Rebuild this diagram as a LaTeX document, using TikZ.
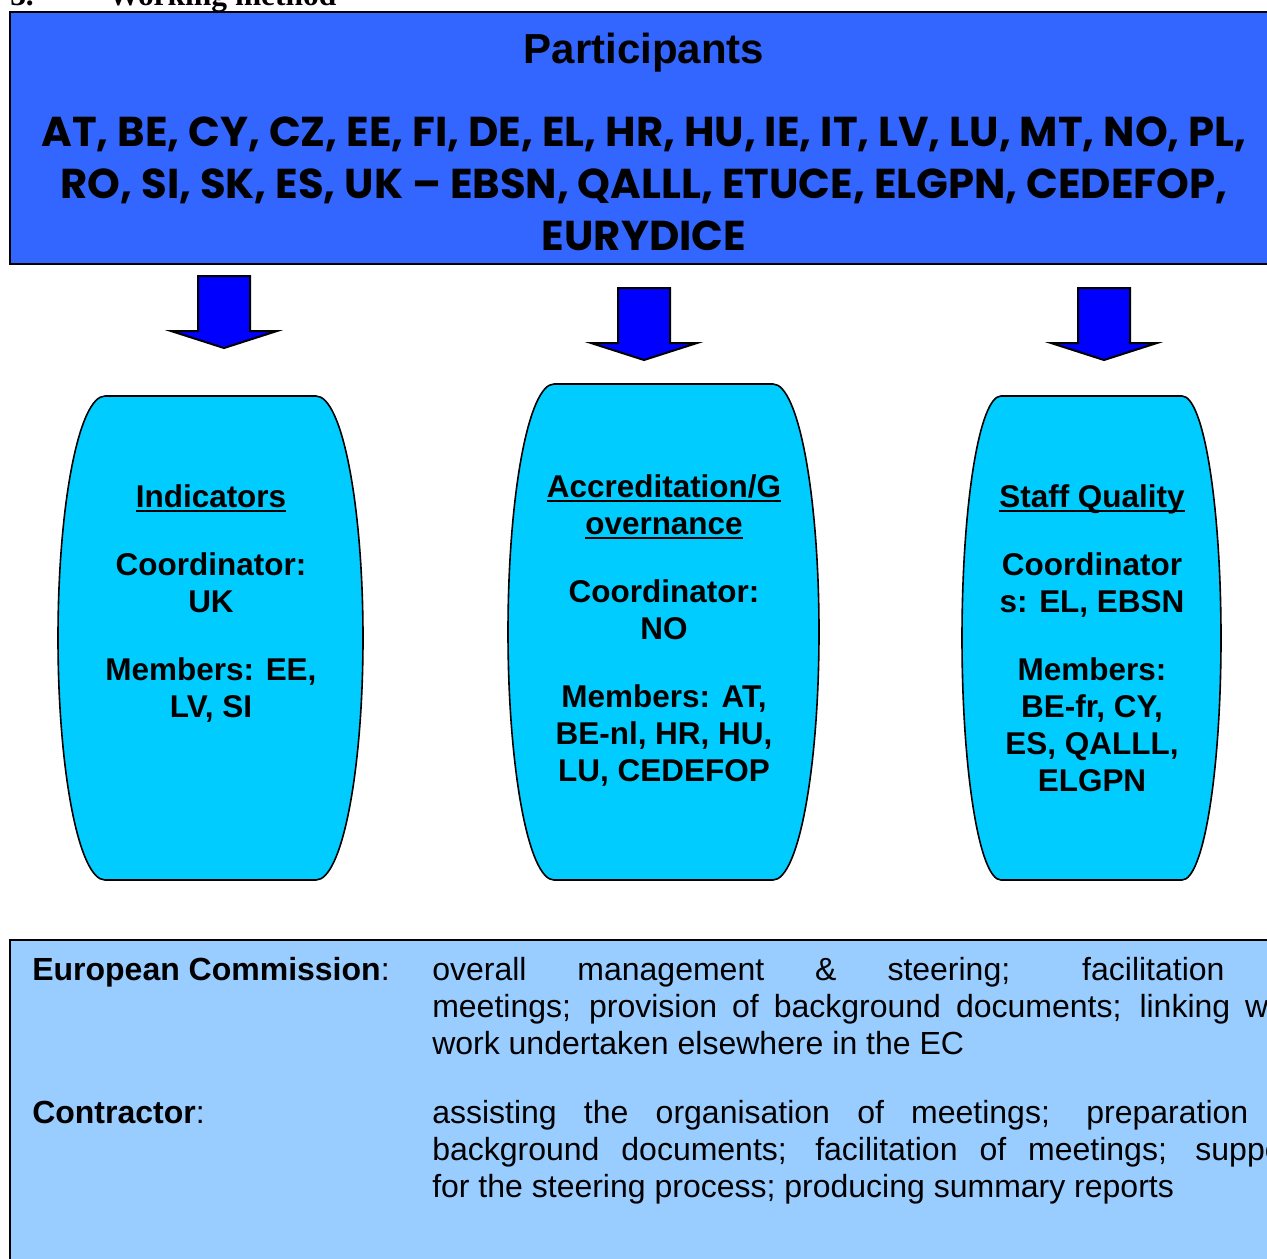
\documentclass[tikz,border=0pt]{standalone}
\usepackage{fontspec}
\setmainfont{Liberation Sans}
\newfontfamily\gothicfont{Poppins}
\newfontfamily\timesfont{Liberation Serif}
\usepackage{tikz}

\definecolor{partblue}{RGB}{51,102,255}
\definecolor{groupcyan}{RGB}{0,204,255}
\definecolor{notefill}{RGB}{153,204,255}
\definecolor{arrowblue}{RGB}{0,0,255}

% thick underline for the group titles
\newcommand{\grouptitle}[1]{\sbox0{#1}\rlap{\rule[-4pt]{\wd0}{2pt}}\usebox0}

\begin{document}
\begin{tikzpicture}[x=0.75pt,y=0.75pt,yscale=-1,xscale=1,
    boxline/.style={draw=black,line width=1.5pt},
    blockarrow/.style={boxline,fill=arrowblue,line join=miter},
    termbox/.style={draw=black,line width=1.2pt,fill=groupcyan},
    grouptext/.style={inner sep=0pt,anchor=north,align=center,font=\bfseries\fontsize{23.6}{27.75}\selectfont},
    notelabel/.style={inner sep=0pt,anchor=base west,font=\fontsize{24}{27.75}\selectfont},
    notetext/.style={inner sep=0pt,anchor=north west,text width=652.5pt,align=justify,font=\fontsize{24}{27.75}\selectfont}]
    \useasboundingbox (0,0) rectangle (1267,1258);
    \clip (0,0) rectangle (1267,1258);

    % heading (cut off by the page)
    \node [anchor=base west,inner sep=0pt,font=\timesfont\bfseries\fontsize{23.6}{28}\selectfont] (secnum) at (10,5) {3.};
    \node [anchor=base west,inner sep=0pt,font=\timesfont\bfseries\fontsize{23.6}{28}\selectfont] (sectitle) at (108,5) {Working method};

    % participants
    \draw [boxline,fill=partblue] (10,12) rectangle (1278,264);
    \node [anchor=base,inner sep=0pt,font=\bfseries\fontsize{31.5}{36}\selectfont] (parttitle) at (644,63) {Participants};
    \node [anchor=north,inner sep=0pt,align=center,font=\gothicfont\bfseries\fontsize{31.3}{39}\selectfont] (partlist) at (644,117)
      {AT, BE, CY, CZ, EE, FI, DE, EL, HR, HU, IE, IT, LV, LU, MT, NO, PL,\\
       RO, SI, SK, ES, UK – EBSN, QALLL, ETUCE, ELGPN, CEDEFOP,\\
       EURYDICE};

    % arrows
    \foreach \cx/\ty in {224/276, 644/288, 1104/288}
      \draw [blockarrow] (\cx-26,\ty) -- (\cx+26,\ty) -- (\cx+26,\ty+55) -- (\cx+53,\ty+55) -- (\cx,\ty+72) -- (\cx-53,\ty+55) -- (\cx-26,\ty+55) -- cycle;

    % working groups
    \foreach \xa/\xb/\ya/\r in {58/363/396/47, 508/819/384/46, 962/1221/396/39}
      \draw [termbox] (\xa+\r,\ya) -- (\xb-\r,\ya) arc [start angle=-90, end angle=90, x radius=\r, y radius={(880-\ya)/2}]
        -- (\xa+\r,880) arc [start angle=90, end angle=270, x radius=\r, y radius={(880-\ya)/2}] -- cycle;

    \node [grouptext] (indicators) at (211,484)
      {\grouptitle{Indicators}\\[23.25pt] Coordinator:\\ UK\\[23.25pt] Members: EE,\\ LV, SI};
    \node [grouptext] (accreditation) at (664,474)
      {\grouptitle{Accreditation/G}\\ \grouptitle{overnance}\\[23.25pt] Coordinator:\\ NO\\[23.25pt] Members: AT,\\ BE-nl, HR, HU,\\ LU, CEDEFOP};
    \node [grouptext] (staff) at (1092,484)
      {\grouptitle{Staff Quality}\\[23.25pt] Coordinator\\ s: EL, EBSN\\[23.25pt] Members:\\ BE-fr, CY,\\ ES, QALLL,\\ ELGPN};

    % roles
    \draw [boxline,fill=notefill] (10,940) rectangle (1330,1300);
    \node [notelabel] (eclabel) at (32,980) {\textbf{European Commission}:};
    \node [notetext] (ectext) at (432,957)
      {\hbadness=10000 overall management \& steering; facilitation of\linebreak meetings; provision of background documents; linking with\linebreak work undertaken elsewhere in the EC};
    \node [notelabel] (conlabel) at (32,1123) {\textbf{Contractor}:};
    \node [notetext] (context) at (432,1100)
      {\hbadness=10000 assisting the organisation of meetings; preparation of\linebreak background documents; facilitation of meetings; support\linebreak for the steering process; producing summary reports};
\end{tikzpicture}
\end{document}
